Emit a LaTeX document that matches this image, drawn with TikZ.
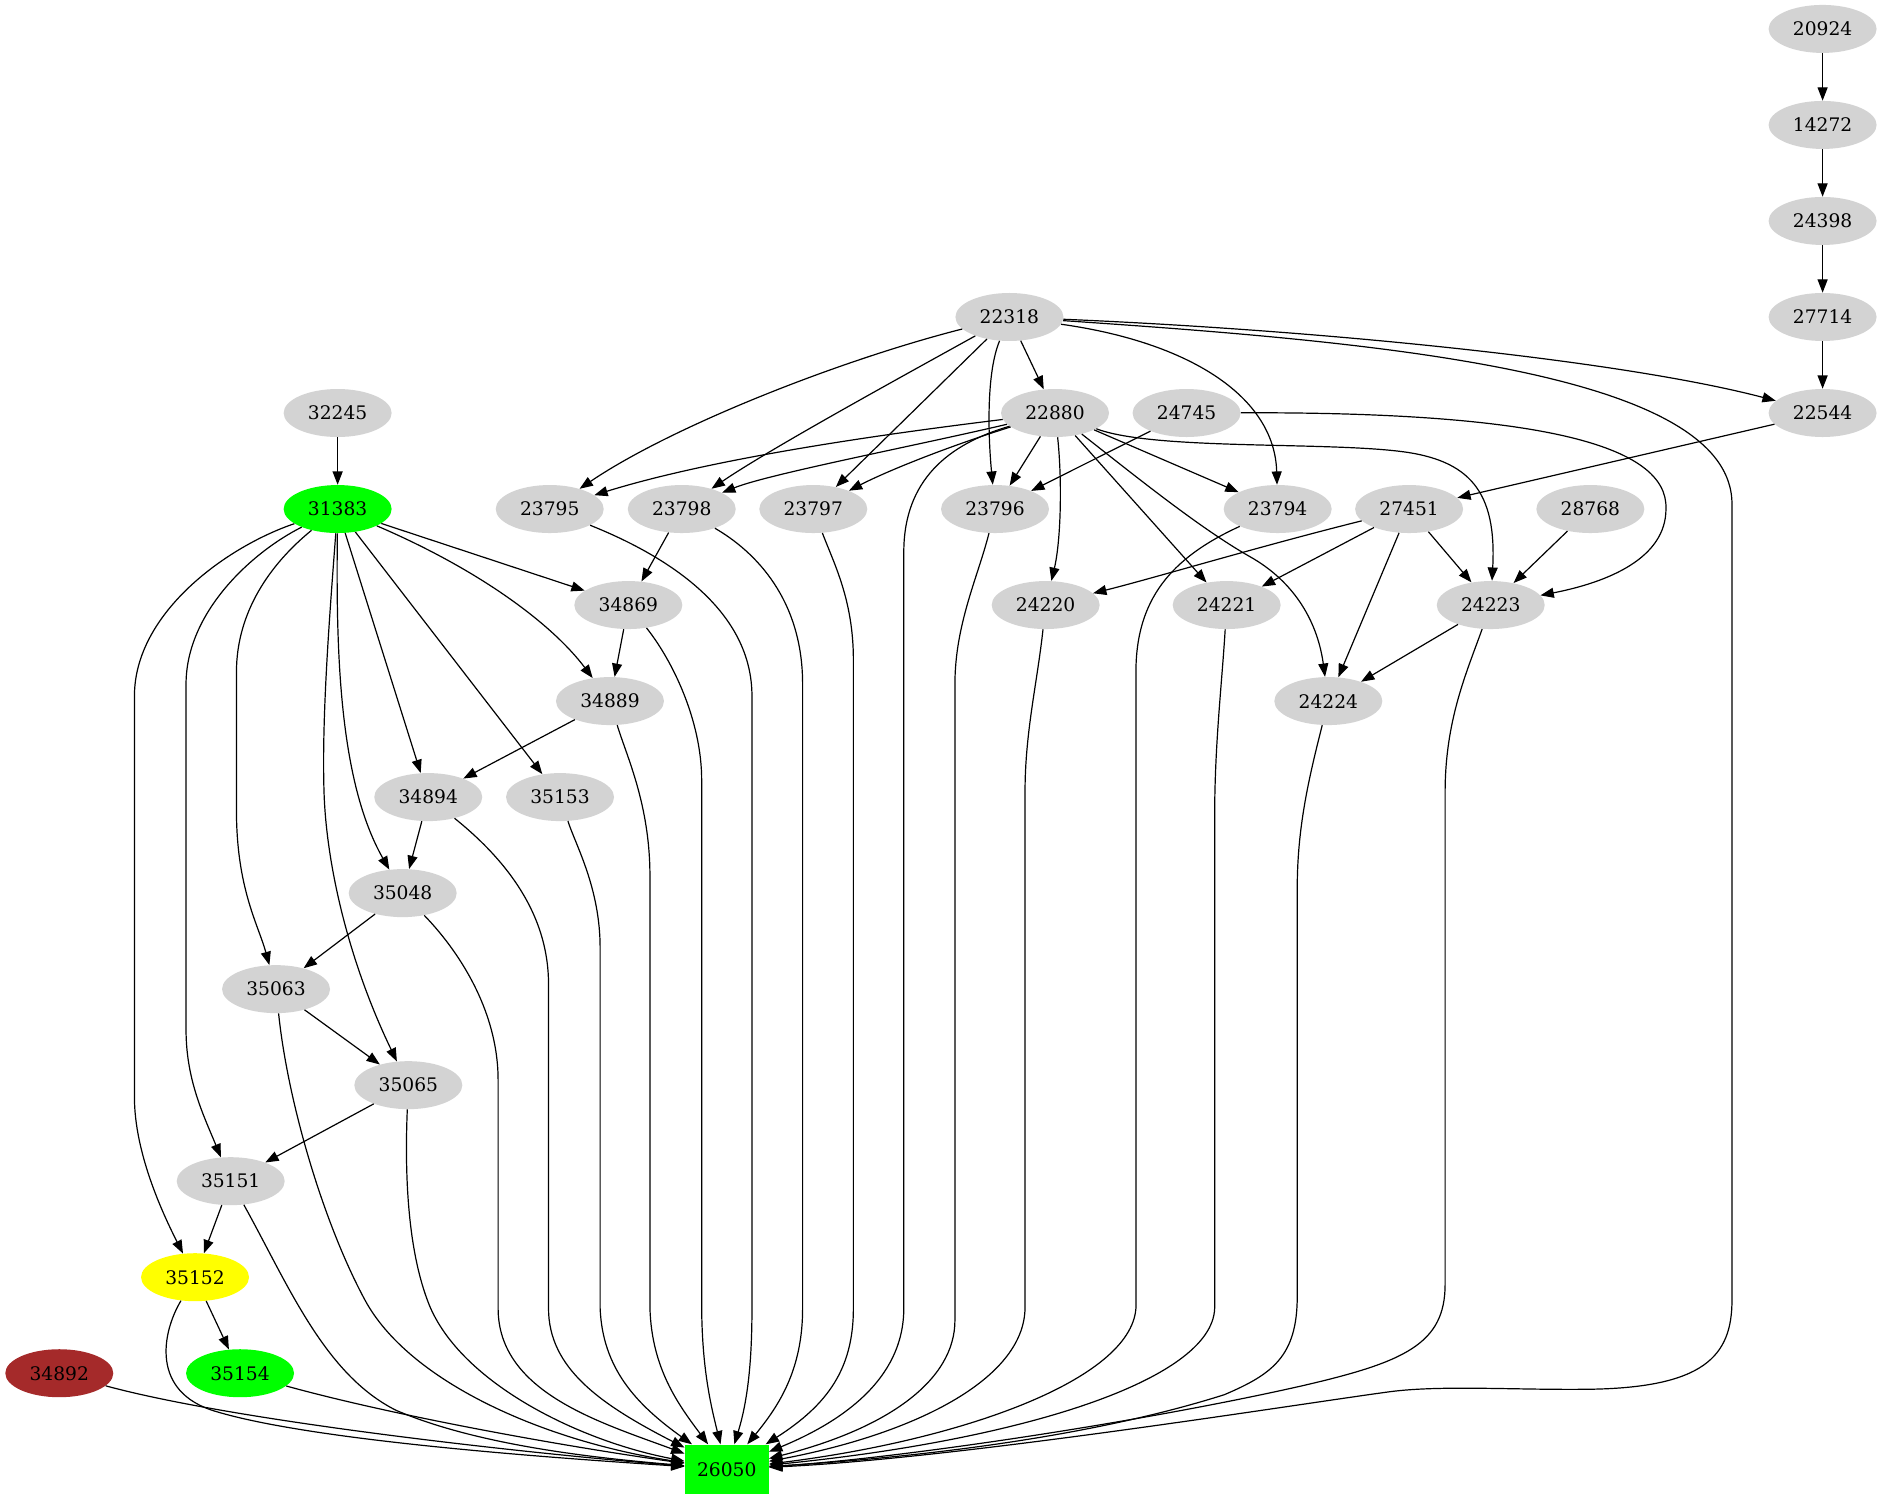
\documentclass[tikz,border=0pt]{standalone}
\usepackage{fontspec}
\setmainfont{DejaVu Serif}
\usetikzlibrary{arrows.meta,shapes.geometric}
\definecolor{lgray}{HTML}{D3D3D3}
\definecolor{gvgreen}{HTML}{00FF00}
\definecolor{gvyellow}{HTML}{FFFF00}
\definecolor{gvbrown}{HTML}{A52A2A}
\begin{document}
\begin{tikzpicture}[x=0.9002pt,y=-0.9002pt,
  gn/.style={ellipse, fill=lgray, draw=none, minimum width=81pt, minimum height=36pt, inner sep=0pt, font=\fontsize{14pt}{16pt}\selectfont},
  tbox/.style={rectangle, fill=gvgreen, draw=none, minimum width=63pt, minimum height=37pt, inner sep=0pt, font=\fontsize{14pt}{16pt}\selectfont},
  edg/.style={line width=0.9pt, -{Triangle[length=10pt,width=7.5pt]}}]
\useasboundingbox (0,0) rectangle (1568,1249);
% nodes
\node[gn] (n20924) at (1518.5,24.1) {20924};
\node[gn] (n14272) at (1518.5,104.1) {14272};
\node[gn] (n24398) at (1518.5,184.1) {24398};
\node[gn] (n27714) at (1518.5,264.1) {27714};
\node[gn] (n22544) at (1518.5,344.1) {22544};
\node[gn] (n22318) at (841,264.1) {22318};
\node[gn] (n22880) at (879,344.1) {22880};
\node[gn] (n24745) at (988.6,344.1) {24745};
\node[gn] (n32245) at (281.3,344.1) {32245};
\node[gn,fill=gvgreen] (n31383) at (281.3,424.1) {31383};
\node[gn] (n23795) at (458,424.1) {23795};
\node[gn] (n23798) at (568,424.1) {23798};
\node[gn] (n23797) at (677.6,424.1) {23797};
\node[gn] (n23796) at (829,424.1) {23796};
\node[gn] (n23794) at (1064.5,424.1) {23794};
\node[gn] (n27451) at (1174,424.1) {27451};
\node[gn] (n28768) at (1325,424.1) {28768};
\node[gn] (n34869) at (523.5,504.1) {34869};
\node[gn] (n24220) at (871.2,504.1) {24220};
\node[gn] (n24221) at (1022,504.1) {24221};
\node[gn] (n24223) at (1242,504.1) {24223};
\node[gn] (n34889) at (508.2,584.1) {34889};
\node[gn] (n24224) at (1106.7,584.1) {24224};
\node[gn] (n34894) at (356.8,664.1) {34894};
\node[gn] (n35153) at (466.6,664.1) {35153};
\node[gn] (n35048) at (335.5,744.1) {35048};
\node[gn] (n35063) at (230,824.1) {35063};
\node[gn] (n35065) at (340.2,904.1) {35065};
\node[gn] (n35151) at (192.2,984.1) {35151};
\node[gn,fill=gvyellow] (n35152) at (162.5,1064.1) {35152};
\node[gn,fill=gvbrown] (n34892) at (49.4,1144.1) {34892};
\node[gn,fill=gvgreen] (n35154) at (200,1144.1) {35154};
\node[tbox] (n26050) at (605.5,1224.1) {26050};
% straight edges
\draw[edg] (n20924) -- (n14272);
\draw[edg] (n14272) -- (n24398);
\draw[edg] (n24398) -- (n27714);
\draw[edg] (n27714) -- (n22544);
\draw[edg] (n22544) -- (n27451);
\draw[edg] (n22318) -- (n22880);
\draw[edg] (n22318) -- (n23797);
\draw[edg] (n22880) -- (n23796);
\draw[edg] (n22880) -- (n23794);
\draw[edg] (n22880) -- (n24221);
\draw[edg] (n24745) -- (n23796);
\draw[edg] (n32245) -- (n31383);
\draw[edg] (n31383) -- (n34869);
\draw[edg] (n31383) -- (n34894);
\draw[edg] (n31383) -- (n35153);
\draw[edg] (n23798) -- (n34869);
\draw[edg] (n27451) -- (n24221);
\draw[edg] (n27451) -- (n24223);
\draw[edg] (n27451) -- (n24224);
\draw[edg] (n28768) -- (n24223);
\draw[edg] (n34869) -- (n34889);
\draw[edg] (n24223) -- (n24224);
\draw[edg] (n34889) -- (n34894);
\draw[edg] (n34894) -- (n35048);
\draw[edg] (n35048) -- (n35063);
\draw[edg] (n35063) -- (n35065);
\draw[edg] (n35065) -- (n35151);
\draw[edg] (n35151) -- (n35152);
\draw[edg] (n35152) -- (n35154);
% curved edges
\draw[edg] (n22318) .. controls (700,300) and (560,355) .. (n23795);
\draw[edg] (n22318) .. controls (740,320) and (640,375) .. (n23798);
\draw[edg] (n22318) .. controls (822,310) and (823,360) .. (n23796);
\draw[edg] (n22318) .. controls (990,285) and (1062,330) .. (n23794);
\draw[edg] (n22318) .. controls (1100,275) and (1350,300) .. (n22544);
\draw[edg] (n22880) .. controls (750,360) and (600,380) .. (n23795);
\draw[edg] (n22880) .. controls (760,372) and (640,395) .. (n23798);
\draw[edg] (n22880) .. controls (790,372) and (740,392) .. (n23797);
\draw[edg] (n22880) .. controls (885,400) and (884,450) .. (n24220);
\draw[edg] (n22880) .. controls (950,400) and (1000,440) .. (1040,463) .. controls (1080,485) and (1098,520) .. (n24224);
\draw[edg] (n22880) .. controls (960,375) and (1100,368) .. (1166,376) .. controls (1225,383) and (1247,410) .. (n24223);
\draw[edg] (n24745) .. controls (1280,343) and (1390,370) .. (1388,424) .. controls (1388,465) and (1340,485) .. (n24223);
\draw[edg] (n27451) .. controls (1050,455) and (960,482) .. (n24220);
\draw[edg] (n31383) .. controls (400,475) and (460,520) .. (n34889);
\draw[edg] (n31383) .. controls (280,540) and (282,650) .. (n35048);
\draw[edg] (n31383) .. controls (225,470) and (197,510) .. (197,560) -- (197,675) .. controls (197,740) and (215,770) .. (n35063);
\draw[edg] (n31383) .. controls (274,520) and (268,600) .. (270,661) .. controls (272,720) and (290,800) .. (n35065);
\draw[edg] (n31383) .. controls (210,460) and (155,510) .. (155,570) -- (155,858) .. controls (155,900) and (170,930) .. (n35151);
\draw[edg] (n31383) .. controls (190,455) and (112,510) .. (112,580) -- (112,914) .. controls (112,960) and (135,1010) .. (n35152);
% edges into 26050
\draw[edg] (n34892) .. controls (200,1185) and (450,1212) .. (n26050);
\draw[edg] (n35154) .. controls (330,1180) and (470,1205) .. (n26050);
\draw[edg] (n35152) .. controls (135,1110) and (125,1160) .. (180,1176) .. controls (260,1200) and (450,1214) .. (n26050);
\draw[edg] (n35151) .. controls (240,1070) and (270,1145) .. (330,1175) .. controls (400,1205) and (500,1215) .. (n26050);
\draw[edg] (n35063) .. controls (240,920) and (270,1020) .. (304,1083) .. controls (340,1150) and (450,1200) .. (n26050);
\draw[edg] (n35065) .. controls (337,980) and (340,1040) .. (356,1083) .. controls (380,1150) and (480,1200) .. (n26050);
\draw[edg] (n35048) .. controls (380,790) and (415,840) .. (415,900) -- (415,1090) .. controls (415,1160) and (500,1185) .. (n26050);
\draw[edg] (n34894) .. controls (420,715) and (457,760) .. (457,820) -- (457,1090) .. controls (457,1140) and (500,1170) .. (n26050);
\draw[edg] (n35153) .. controls (480,705) and (500,740) .. (500,790) -- (500,1090) .. controls (502,1140) and (530,1170) .. (n26050);
\draw[edg] (n34889) .. controls (522,630) and (541.5,670) .. (541.5,730) -- (541.5,1090) .. controls (543,1140) and (565,1170) .. (n26050);
\draw[edg] (n34869) .. controls (560,550) and (584.6,600) .. (584.6,650) -- (584.6,1090) .. controls (585,1140) and (592,1170) .. (n26050);
\draw[edg] (n23795) .. controls (560,465) and (626.5,510) .. (626.5,580) -- (626.5,1090) .. controls (626.5,1140) and (622,1170) .. (n26050);
\draw[edg] (n23798) .. controls (630,460) and (668.7,500) .. (668.7,570) -- (668.7,1090) .. controls (668.7,1140) and (650,1170) .. (n26050);
\draw[edg] (n23797) .. controls (695,470) and (711,500) .. (711,550) -- (711,1090) .. controls (711,1140) and (690,1170) .. (n26050);
\draw[edg] (n22880) .. controls (790,370) and (753,400) .. (753,460) -- (753,1090) .. controls (753,1150) and (700,1185) .. (n26050);
\draw[edg] (n23796) .. controls (815,480) and (795.6,520) .. (795.6,570) -- (795.6,1100) .. controls (795.6,1150) and (740,1190) .. (n26050);
\draw[edg] (n24220) .. controls (864,570) and (854,610) .. (854,660) -- (854,1090) .. controls (853,1150) and (760,1195) .. (n26050);
\draw[edg] (n23794) .. controls (975,465) and (946.4,500) .. (946.4,560) -- (946.4,1090) .. controls (942,1150) and (800,1200) .. (n26050);
\draw[edg] (n24221) .. controls (1018,570) and (1012,620) .. (1012,680) -- (1012,1090) .. controls (1010,1150) and (850,1200) .. (n26050);
\draw[edg] (n24224) .. controls (1090,650) and (1080.8,690) .. (1080.8,740) -- (1080.8,1080) .. controls (1080.8,1130) and (1060,1145) .. (1020,1162) .. controls (900,1200) and (750,1215) .. (n26050);
\draw[edg] (n24223) .. controls (1222,560) and (1204,600) .. (1204,660) -- (1204,1070) .. controls (1204,1120) and (1170,1135) .. (1083,1155) .. controls (950,1185) and (750,1215) .. (n26050);
\draw[edg] (n22318) .. controls (1150,285) and (1443,310) .. (1443,420) -- (1443,1083) .. controls (1443,1130) and (1420,1157) .. (1319,1157.5) .. controls (1260,1158) and (1200,1154) .. (1158,1159.5) .. controls (1080,1170) and (800,1215) .. (n26050);
\end{tikzpicture}
\end{document}
